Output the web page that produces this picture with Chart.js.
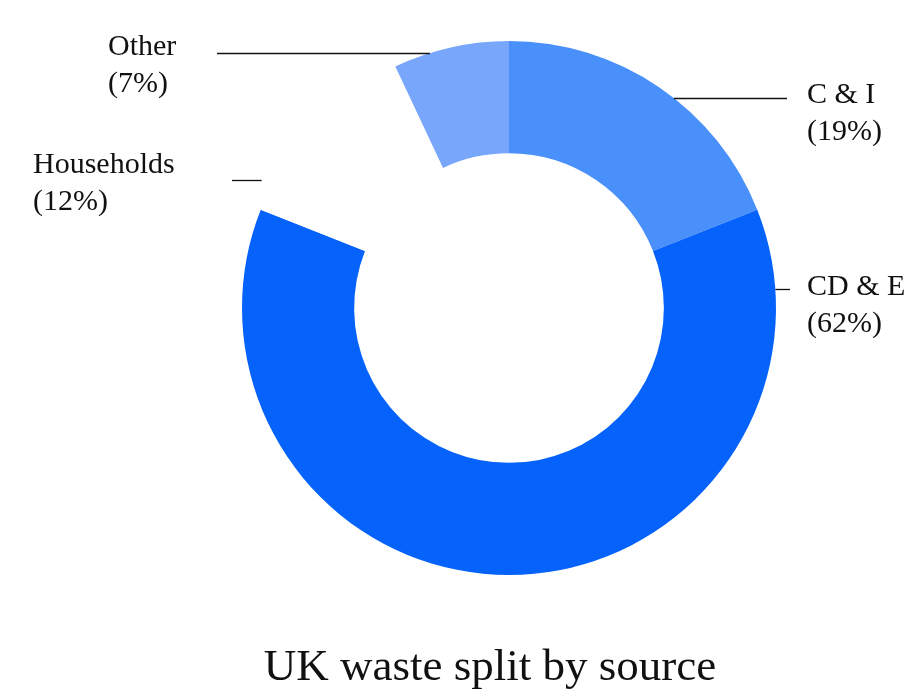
<!DOCTYPE html>
<html>
<head>
<meta charset="utf-8">
<title>UK waste split by source</title>
<script src="https://cdn.jsdelivr.net/npm/chart.js@4"></script>
<style>
  html, body { margin: 0; padding: 0; background: #ffffff; }
  canvas { display: block; }
</style>
</head>
<body>
<canvas id="chart" width="908" height="692"></canvas>
<script>
// Waste sources, clockwise from 12 o'clock
const categories = ['C & I', 'CD & E', 'Households', 'Other'];
const shares = [19, 62, 12, 7];
const sliceColors = ['#4a90fb', '#0562fa', '#ffffff', '#78a6fb'];
const chartTitle = 'UK waste split by source';

// Callout placement per slice: text anchor, baseline, leader y and far end of the leader
const calloutLayout = [
  { side: 'right', textX: 807, baseline: 103, lineY: 98,  lineFar: 787, inset: 0 },
  { side: 'right', textX: 807, baseline: 295, lineY: 289, lineFar: 790, inset: 0 },
  { side: 'left',  textX: 33,  baseline: 173, lineY: 180, lineFar: 232, inset: 13 },
  { side: 'left',  textX: 108, baseline: 55,  lineY: 53,  lineFar: 217, inset: 0 }
];

const FONT = '"Liberation Serif", "Times New Roman", serif';

const calloutPlugin = {
  id: 'callouts',
  afterDraw(chart) {
    const ctx = chart.ctx;
    const meta = chart.getDatasetMeta(0);
    ctx.save();
    ctx.fillStyle = '#111111';
    ctx.strokeStyle = '#111111';
    ctx.lineWidth = 1.3;
    ctx.font = '30px ' + FONT;
    ctx.textAlign = 'left';
    ctx.textBaseline = 'alphabetic';
    meta.data.forEach((arc, i) => {
      const lay = calloutLayout[i];
      const dy = lay.lineY - arc.y;
      const r = arc.outerRadius;
      const dx = Math.sqrt(Math.max(r * r - dy * dy, 0));
      let edgeX = lay.side === 'right' ? arc.x + dx : arc.x - dx;
      edgeX += lay.side === 'right' ? lay.inset : -lay.inset;
      ctx.beginPath();
      ctx.moveTo(lay.lineFar, lay.lineY + 0.5);
      ctx.lineTo(edgeX, lay.lineY + 0.5);
      ctx.stroke();
      ctx.fillText(categories[i], lay.textX, lay.baseline);
      ctx.fillText('(' + shares[i] + '%)', lay.textX, lay.baseline + 37);
    });
    // Chart caption under the ring
    ctx.font = '45px ' + FONT;
    ctx.textAlign = 'center';
    ctx.fillText(chartTitle, 490, 680);
    ctx.restore();
  }
};

new Chart(document.getElementById('chart'), {
  type: 'doughnut',
  data: {
    labels: categories,
    datasets: [{
      data: shares,
      backgroundColor: sliceColors,
      borderWidth: 0,
      hoverOffset: 0
    }]
  },
  options: {
    responsive: false,
    animation: false,
    cutout: '58%',
    layout: { padding: { left: 242, right: 132, top: 41, bottom: 117 } },
    plugins: {
      legend: { display: false },
      tooltip: { enabled: false },
      title: { display: false }
    }
  },
  plugins: [calloutPlugin]
});
</script>
</body>
</html>
